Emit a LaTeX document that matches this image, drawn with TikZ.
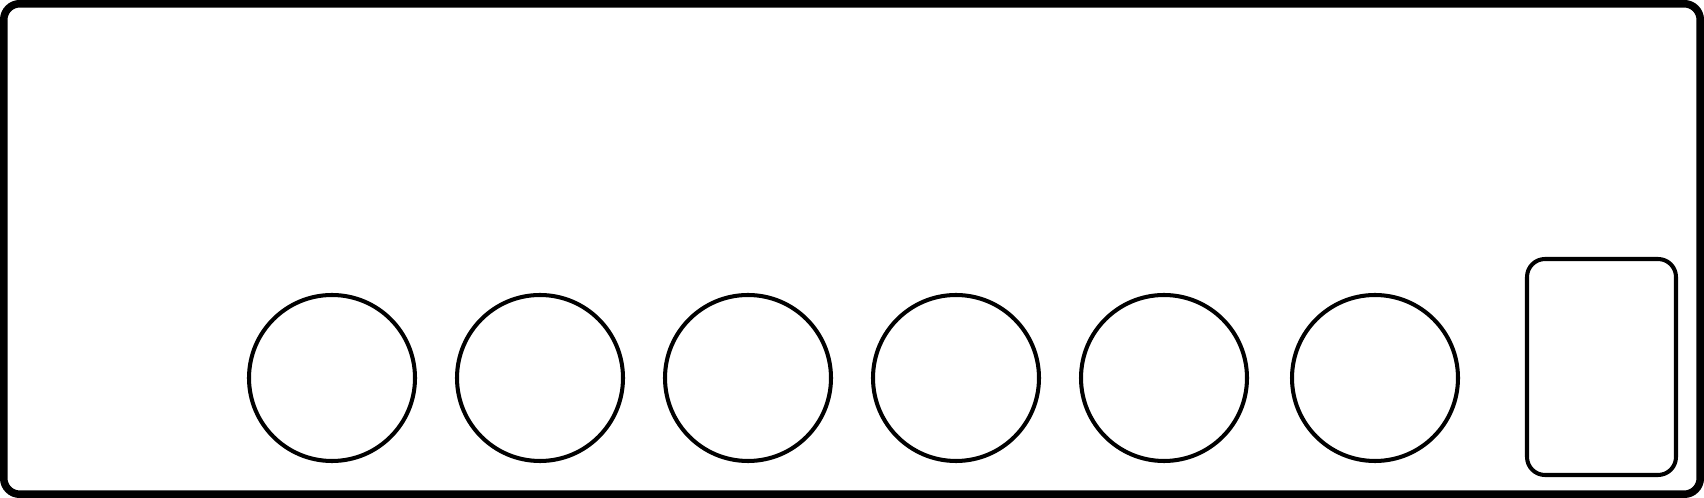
\documentclass[tikz,border=0pt]{standalone}
\begin{document}
\begin{tikzpicture}
		\tikzstyle{bouton}=[circle, minimum size=3.32cm, inner sep=0pt, draw, line width=2.3pt]
		\tikzstyle{ecran}=[rectangle, rounded corners=0.36cm, minimum width=2.98cm, minimum height=4.32cm, inner sep=0pt, draw, line width=2.3pt]
		\useasboundingbox (0,0) rectangle (34.08,9.96);
		\draw[line width=4.3pt, rounded corners=0.32cm] (0.075,0.075) rectangle (34.005,9.885); % cadre
		\node[bouton] (b1) at (6.64,2.4) {}; % gauche
		\node[bouton] (b2) at (10.8,2.4) {};
		\node[bouton] (b3) at (14.96,2.4) {};
		\node[bouton] (b4) at (19.12,2.4) {};
		\node[bouton] (b5) at (23.28,2.4) {};
		\node[bouton] (b6) at (27.5,2.4) {}; % droite
		\node[ecran] (e) at (32.03,2.62) {};
	\end{tikzpicture}
\end{document}
